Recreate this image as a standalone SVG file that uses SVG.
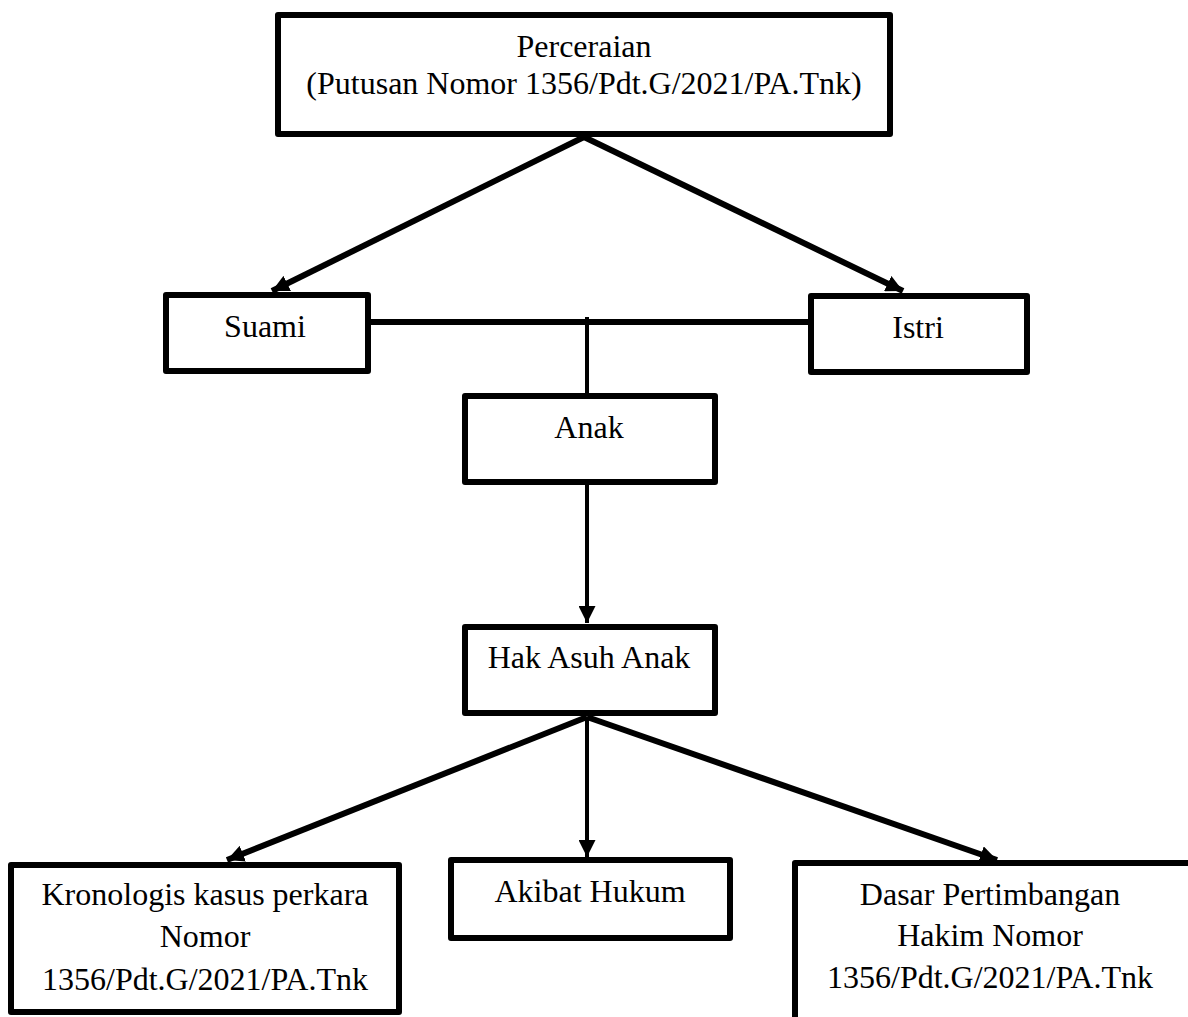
<svg xmlns="http://www.w3.org/2000/svg" width="1188" height="1017" viewBox="0 0 1188 1017">
<style>
.box{fill:#fff;stroke:#000;stroke-width:6;stroke-linejoin:round}
.t{font-family:"Liberation Serif","Times New Roman",serif;font-size:32px;fill:#000;text-anchor:middle}
.c{stroke:#000;fill:none}
</style>
<defs>
<marker id="ah" viewBox="0 0 10 10" refX="10" refY="5" markerWidth="17" markerHeight="17" markerUnits="userSpaceOnUse" orient="auto">
<path d="M0,0 L10,5 L0,10 z" fill="#000"/>
</marker>
</defs>
<rect width="1188" height="1017" fill="#fff"/>
<g id="connectors">
<line class="c" x1="584" y1="137" x2="272" y2="291" stroke-width="6" marker-end="url(#ah)"/>
<line class="c" x1="584" y1="137" x2="903" y2="291" stroke-width="6" marker-end="url(#ah)"/>
<line class="c" x1="370" y1="322" x2="810" y2="322" stroke-width="6"/>
<line class="c" x1="587" y1="317" x2="587" y2="394" stroke-width="4"/>
<line class="c" x1="587" y1="484" x2="587" y2="623" stroke-width="4" marker-end="url(#ah)"/>
<line class="c" x1="587" y1="717" x2="227" y2="860" stroke-width="6" marker-end="url(#ah)"/>
<line class="c" x1="587" y1="717" x2="587" y2="857" stroke-width="4" marker-end="url(#ah)"/>
<line class="c" x1="587" y1="717" x2="997" y2="860" stroke-width="6" marker-end="url(#ah)"/>
</g>
<g id="perceraian">
<rect class="box" x="278" y="15" width="612" height="119"/>
<text class="t" x="584" y="57">Perceraian</text>
<text class="t" x="584" y="94">(Putusan Nomor 1356/Pdt.G/2021/PA.Tnk)</text>
</g>
<g id="suami">
<rect class="box" x="166" y="295" width="202" height="76"/>
<text class="t" x="265" y="337">Suami</text>
</g>
<g id="istri">
<rect class="box" x="811" y="296" width="216" height="76"/>
<text class="t" x="918" y="338">Istri</text>
</g>
<g id="anak">
<rect class="box" x="465" y="396" width="250" height="86"/>
<text class="t" x="589" y="438">Anak</text>
</g>
<g id="hak-asuh-anak">
<rect class="box" x="465" y="627" width="250" height="86"/>
<text class="t" x="589" y="668">Hak Asuh Anak</text>
</g>
<g id="kronologis">
<rect class="box" x="11" y="865" width="388" height="147"/>
<text class="t" x="205" y="905">Kronologis kasus perkara</text>
<text class="t" x="205" y="947">Nomor</text>
<text class="t" x="205" y="990">1356/Pdt.G/2021/PA.Tnk</text>
</g>
<g id="akibat-hukum">
<rect class="box" x="451" y="860" width="279" height="78"/>
<text class="t" x="590" y="902">Akibat Hukum</text>
</g>
<g id="dasar-pertimbangan">
<rect class="box" x="795" y="863" width="410" height="180"/>
<text class="t" x="990" y="905">Dasar Pertimbangan</text>
<text class="t" x="990" y="946">Hakim Nomor</text>
<text class="t" x="990" y="988">1356/Pdt.G/2021/PA.Tnk</text>
</g>
</svg>
